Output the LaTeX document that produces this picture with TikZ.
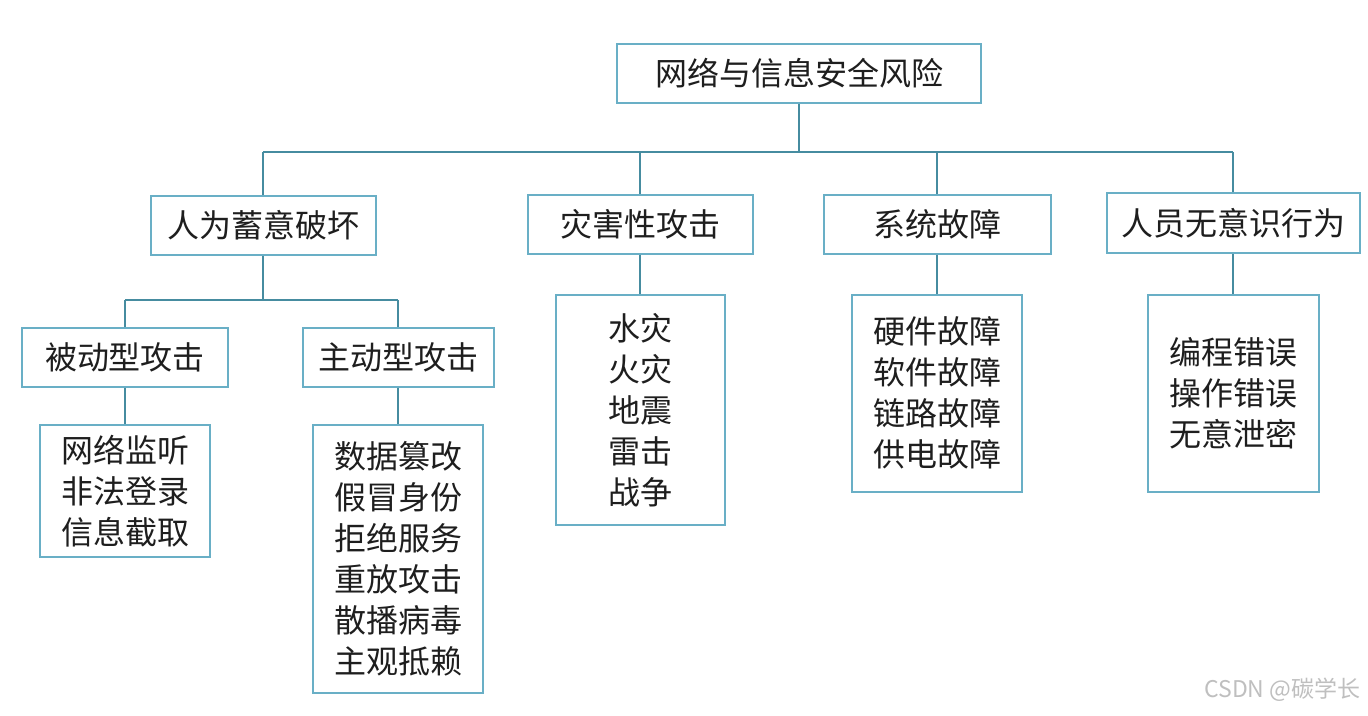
\documentclass[tikz,border=0pt]{standalone}
\usepackage{fontspec}
\usepackage{tikz}
\usetikzlibrary{positioning}
\newfontfamily\cjk{Noto Sans CJK SC}
\definecolor{boxblue}{RGB}{105,175,198}
\definecolor{linkblue}{RGB}{70,140,160}
\definecolor{inkgray}{RGB}{30,30,30}
\tikzset{
    box/.style={draw=boxblue, line width=2pt, fill=white, inner sep=0pt,
        text=inkgray, font=\cjk\fontsize{32}{41}\selectfont, align=center},
    link/.style={draw=linkblue, line width=1.8pt}
}

\begin{document}
\begin{tikzpicture}[x=1pt, y=-1pt]
    \useasboundingbox[fill=white] (0, 0) rectangle (1368, 715);
    % top
    \node[box, minimum width=364pt, minimum height=59pt] (risk) at (799, 73) {网络与信息安全风险};
    % level 2
    \node[box, minimum width=225pt, minimum height=59pt] (human) at (263, 225) {人为蓄意破坏};
    \node[box, minimum width=225pt, minimum height=59pt] (disaster) at (640, 224) {灾害性攻击};
    \node[box, minimum width=227pt, minimum height=59pt] (system) at (937, 224) {系统故障};
    \node[box, minimum width=253pt, minimum height=60pt] (staff) at (1233, 223) {人员无意识行为};
    % attacks
    \node[box, minimum width=206pt, minimum height=59pt] (passive) at (125, 357) {被动型攻击};
    \node[box, minimum width=191pt, minimum height=59pt] (active) at (398, 357) {主动型攻击};
    % leaves
    \node[box, minimum width=170pt, minimum height=132pt] (passlist) at (125, 491) {网络监听\\非法登录\\信息截取};
    \node[box, minimum width=170pt, minimum height=268pt] (actlist) at (398, 559) {数据篡改\\假冒身份\\拒绝服务\\重放攻击\\散播病毒\\主观抵赖};
    \node[box, minimum width=169pt, minimum height=230pt] (dislist) at (640, 410) {水灾\\火灾\\地震\\雷击\\战争};
    \node[box, minimum width=170pt, minimum height=197pt] (syslist) at (937, 393) {硬件故障\\软件故障\\链路故障\\供电故障};
    \node[box, minimum width=171pt, minimum height=197pt] (stafflist) at (1233, 393) {编程错误\\操作错误\\无意泄密};

    % links
    \coordinate (bus) at (0, 152);
    \coordinate (bus2) at (0, 300);
    \draw[link] (risk.south) -- (risk.south |- bus);
    \draw[link] (human.north |- bus) -- (staff.north |- bus);
    \foreach \n in {human, disaster, system, staff} {
        \draw[link] (\n.north) -- (\n.north |- bus);
    }
    \draw[link] (human.south) -- (human.south |- bus2);
    \draw[link] (passive.north |- bus2) -- (active.north |- bus2);
    \draw[link] (passive.north) -- (passive.north |- bus2);
    \draw[link] (active.north) -- (active.north |- bus2);
    \draw[link] (passive.south) -- (passlist.north);
    \draw[link] (active.south) -- (actlist.north);
    \draw[link] (disaster.south) -- (dislist.north);
    \draw[link] (system.south) -- (syslist.north);
    \draw[link] (staff.south) -- (stafflist.north);

    % watermark
    \node[text=black!25, font=\cjk\fontsize{23}{27}\selectfont, anchor=east] (mark) at (1364, 690) {CSDN @碳学长};
\end{tikzpicture}
\end{document}
